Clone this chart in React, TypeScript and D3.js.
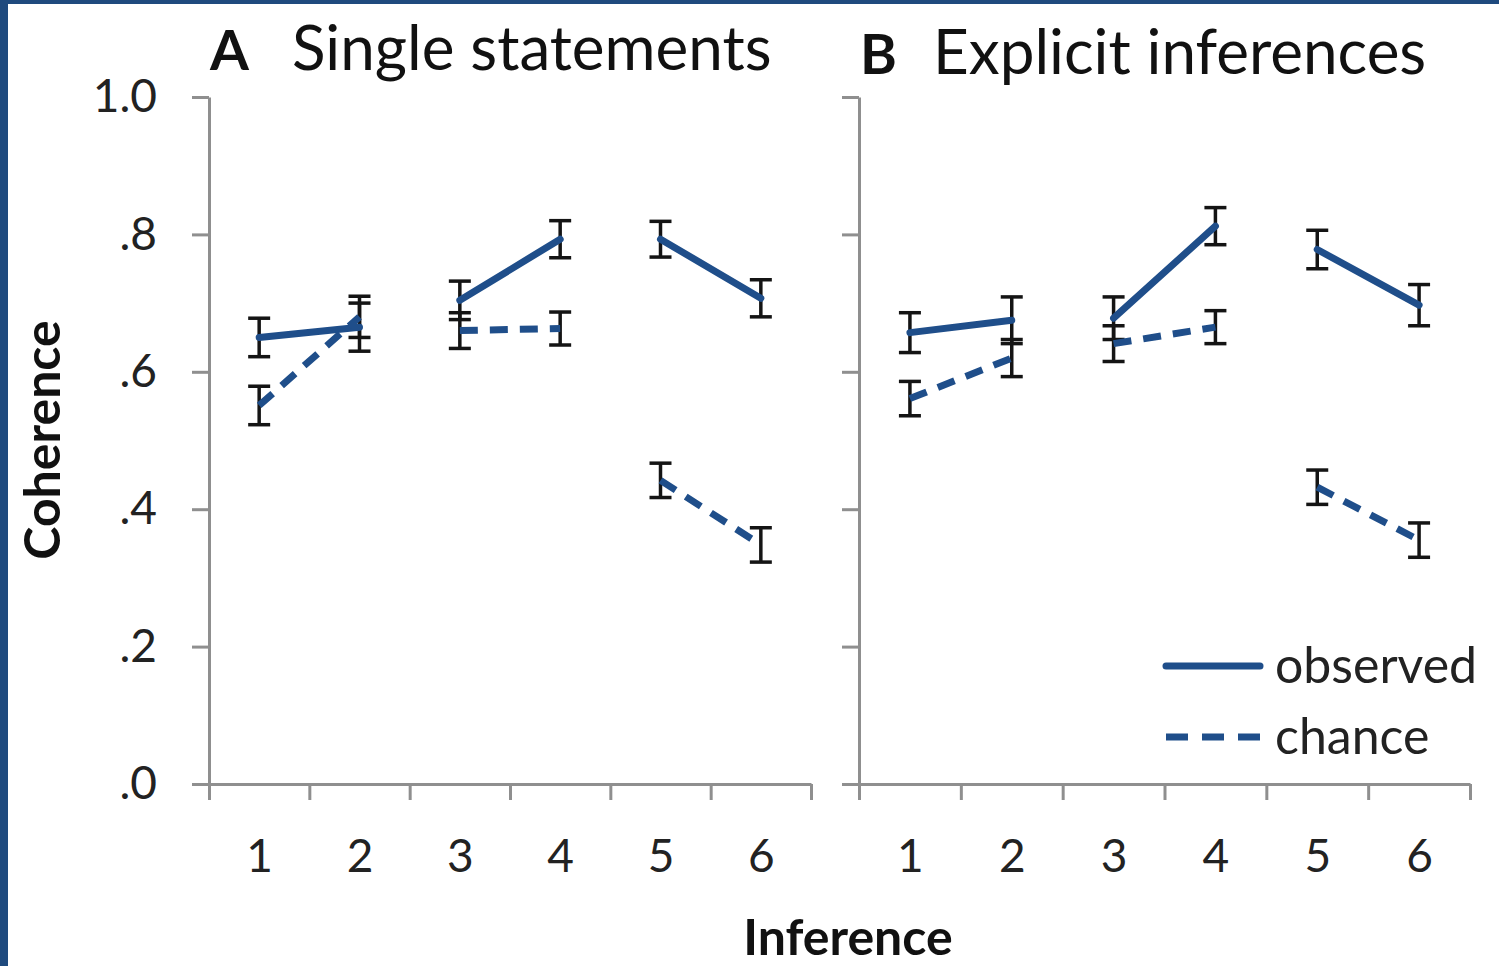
import { useEffect, useRef } from "react"
import { select, scaleLinear, axisBottom, axisLeft, line, range } from "d3"

const categories = [1, 2, 3, 4, 5, 6]
const yTicks = [0, 0.2, 0.4, 0.6, 0.8, 1.0]
const yTickLabels = [".0", ".2", ".4", ".6", ".8", "1.0"]

// panel A: single statements
const observedA = [0.65, 0.665, 0.704, 0.793, 0.793, 0.707]
const observedAErr = [0.028, 0.035, 0.028, 0.027, 0.026, 0.027]
const chanceA = [0.551, 0.68, 0.66, 0.663, 0.442, 0.348]
const chanceAErr = [0.028, 0.03, 0.026, 0.024, 0.025, 0.025]

// panel B: explicit inferences
const observedB = [0.657, 0.675, 0.678, 0.812, 0.778, 0.697]
const observedBErr = [0.029, 0.034, 0.031, 0.027, 0.028, 0.03]
const chanceB = [0.561, 0.62, 0.641, 0.665, 0.432, 0.355]
const chanceBErr = [0.025, 0.027, 0.026, 0.024, 0.025, 0.025]

// points are joined in pairs: 1-2, 3-4, 5-6
const pairs = [[0, 1], [2, 3], [4, 5]]

const legendLabels = ["observed", "chance"]

const FONT = "Lato, 'Open Sans', sans-serif"
const BLUE = "#1f4e8a"
const AXIS = "#8f8f8f"

function App() {
  const width = 1499
  const height = 966
  const svgRef = useRef<SVGSVGElement>(null)

  useEffect(() => {
    const svg = select(svgRef.current)
    svg.selectAll("*").remove()

    // frame
    svg.append("rect").attr("width", width).attr("height", height).attr("fill", "#fff")
    svg.append("rect").attr("x", 0).attr("y", 0).attr("width", 8).attr("height", height).attr("fill", "#1f4a7e")
    svg.append("rect").attr("x", 0).attr("y", 0).attr("width", width).attr("height", 4).attr("fill", "#1f4a7e")

    const yScale = scaleLinear().domain([0, 1]).range([784, 97])

    const panels = [
      { left: 209, right: 811, letter: "A", title: "Single statements", titleX: 292, titleY: 70,
        obs: observedA, obsErr: observedAErr, ch: chanceA, chErr: chanceAErr, labels: true },
      { left: 859, right: 1470, letter: "B", title: "Explicit inferences", titleX: 933, titleY: 74,
        obs: observedB, obsErr: observedBErr, ch: chanceB, chErr: chanceBErr, labels: false },
    ]

    panels.forEach(p => {
      const g = svg.append("g")
      const xScale = scaleLinear().domain([0.5, 6.5]).range([p.left, p.right])

      // y axis
      const yAxis = axisLeft(yScale)
        .tickValues(yTicks)
        .tickSize(17)
        .tickSizeOuter(0)
        .tickPadding(35)
        .tickFormat((d, i) => (p.labels ? yTickLabels[i] : ""))
      const ya = g.append("g").attr("transform", `translate(${p.left},0)`).call(yAxis)
      ya.select(".domain").attr("stroke", AXIS).attr("stroke-width", 3)
      ya.selectAll(".tick line").attr("stroke", AXIS).attr("stroke-width", 3)
      ya.selectAll(".tick text")
        .attr("font-family", FONT).attr("font-size", 46).attr("fill", "#222")

      // x axis: tick marks between categories
      const xAxis = axisBottom(xScale)
        .tickValues(range(0.5, 7, 1))
        .tickSize(16)
        .tickSizeOuter(0)
        .tickFormat(() => "")
      const xa = g.append("g").attr("transform", "translate(0,784)").call(xAxis)
      xa.select(".domain").attr("stroke", AXIS).attr("stroke-width", 3)
      xa.selectAll(".tick line").attr("stroke", AXIS).attr("stroke-width", 3)

      // category labels
      const xLab = axisBottom(xScale).tickValues(categories).tickSize(0).tickPadding(55)
        .tickFormat(d => String(d))
      const xl = g.append("g").attr("transform", "translate(0,784)").call(xLab)
      xl.select(".domain").remove()
      xl.selectAll(".tick text")
        .attr("font-family", FONT).attr("font-size", 46).attr("fill", "#222")

      // titles
      g.append("text").attr("x", p.left + 1).attr("y", p.titleY)
        .attr("font-family", FONT).attr("font-weight", "bold").attr("font-size", 56)
        .attr("fill", "#111").text(p.letter)
      g.append("text").attr("x", p.titleX).attr("y", p.titleY)
        .attr("font-family", FONT).attr("font-size", 62)
        .attr("fill", "#111").text(p.title)

      const lineGen = line<number>()
        .x(i => xScale(categories[i]))

      const series = [
        { vals: p.obs, errs: p.obsErr, dash: null },
        { vals: p.ch, errs: p.chErr, dash: "18,12" },
      ]

      // error bars
      series.forEach(s => {
        categories.forEach((c, i) => {
          const x = xScale(c)
          const y0 = yScale(s.vals[i] - s.errs[i])
          const y1 = yScale(s.vals[i] + s.errs[i])
          const eb = g.append("g").attr("stroke", "#141414").attr("stroke-width", 3.5)
          eb.append("line").attr("x1", x).attr("x2", x).attr("y1", y0).attr("y2", y1)
          eb.append("line").attr("x1", x - 11).attr("x2", x + 11).attr("y1", y0).attr("y2", y0)
          eb.append("line").attr("x1", x - 11).attr("x2", x + 11).attr("y1", y1).attr("y2", y1)
        })
      })

      // lines
      series.forEach(s => {
        pairs.forEach(pr => {
          g.append("path")
            .attr("d", lineGen.y(i => yScale(s.vals[i]))(pr))
            .attr("fill", "none")
            .attr("stroke", BLUE)
            .attr("stroke-width", 7)
            .attr("stroke-linecap", s.dash ? "butt" : "round")
            .attr("stroke-dasharray", s.dash)
        })
      })
    })

    // axis titles
    svg.append("text")
      .attr("transform", "translate(60,440) rotate(-90)")
      .attr("text-anchor", "middle")
      .attr("font-family", FONT).attr("font-weight", "bold").attr("font-size", 50)
      .attr("fill", "#111").text("Coherence")
    svg.append("text")
      .attr("x", 848).attr("y", 955)
      .attr("text-anchor", "middle")
      .attr("font-family", FONT).attr("font-weight", "bold").attr("font-size", 50)
      .attr("fill", "#111").text("Inference")

    // legend
    const legendY = [666, 737]
    legendLabels.forEach((lab, i) => {
      svg.append("line")
        .attr("x1", 1166).attr("x2", 1260).attr("y1", legendY[i]).attr("y2", legendY[i])
        .attr("stroke", BLUE).attr("stroke-width", 7).attr("stroke-linecap", i === 1 ? "butt" : "round")
        .attr("stroke-dasharray", i === 1 ? "22,14" : null)
      svg.append("text")
        .attr("x", 1275).attr("y", legendY[i] + 17)
        .attr("font-family", FONT).attr("font-size", 50)
        .attr("fill", "#222").text(lab)
    })
  }, [])

  return (
    <svg ref={svgRef} width={width} height={height}
      style={{ position: "absolute", left: 0, top: 0 }} />
  )
}

export default App
